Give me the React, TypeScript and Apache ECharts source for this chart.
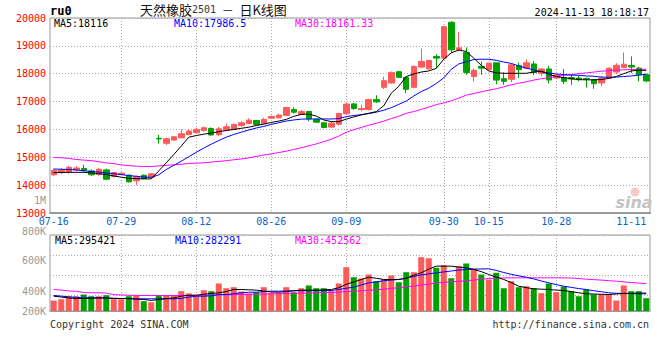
import React, { useEffect, useRef } from 'react';
import * as echarts from 'echarts';

const dates = [
  '07-16','07-17','07-18','07-19','07-22','07-23','07-24','07-25','07-26','07-29',
  '07-30','07-31','08-01','08-02','08-05','08-06','08-07','08-08','08-09','08-12',
  '08-13','08-14','08-15','08-16','08-19','08-20','08-21','08-22','08-23','08-26',
  '08-27','08-28','08-29','08-30','09-02','09-03','09-04','09-05','09-06','09-09',
  '09-10','09-11','09-12','09-13','09-18','09-19','09-20','09-23','09-24','09-25',
  '09-26','09-27','09-30','10-08','10-09','10-10','10-11','10-14','10-15','10-16',
  '10-17','10-18','10-21','10-22','10-23','10-24','10-25','10-28','10-29','10-30',
  '10-31','11-01','11-04','11-05','11-06','11-07','11-08','11-11','11-12','11-13'
];

const opens = [
  14370,14450,14476,14547,14600,14512,14380,14547,14310,14380,
  14357,14155,14357,14285,15680,15500,15618,15700,15820,15880,
  15964,16036,15810,15976,16000,16143,16214,16321,16214,16404,
  16416,16500,16714,16547,16642,16357,16238,16083,16190,16560,
  16917,16714,16714,17070,17512,17666,18071,17869,17512,18238,
  18178,18620,18560,19845,18870,18760,17900,18260,18140,18390,
  17820,17800,18290,18200,18350,18010,18170,17845,17860,17860,
  17845,17830,17786,17667,17845,18060,18226,18300,18200,17964
];
const closes = [
  14530,14540,14640,14615,14520,14370,14570,14214,14452,14430,
  14119,14310,14238,14405,15660,15666,15737,15845,15940,16000,
  16060,15800,16024,16095,16178,16238,16333,16178,16357,16464,
  16512,16785,16619,16642,16380,16262,16071,16226,16571,16910,
  16750,16750,17071,16990,17750,18047,17869,17440,18261,18440,
  18476,18560,19690,18857,18930,18047,18120,18200,18380,17770,
  17726,18320,18143,18390,18040,18170,17775,17950,17726,17810,
  17786,17810,17643,17845,18200,18300,18340,18240,17960,17740
];
const lows = [
  14320,14400,14420,14490,14470,14330,14340,14180,14270,14350,
  14090,14000,14210,14250,15490,15440,15590,15680,15790,15850,
  15920,15780,15760,15940,15980,16095,16180,16160,16190,16380,
  16400,16480,16570,16520,16290,16230,16040,16060,16150,16540,
  16700,16655,16680,16950,17450,17640,17850,17300,17480,18200,
  18150,18200,18520,18740,18800,17960,17720,17960,18100,17620,
  17600,17700,17845,18170,17950,17915,17655,17800,17630,17605,
  17730,17500,17460,17550,17820,18000,18200,18024,17726,17700
];
const highs = [
  14600,14620,14690,14680,14730,14560,14620,14590,14480,14460,
  14380,14340,14380,14440,15810,15700,15770,16000,16010,16060,
  16110,16070,16090,16214,16210,16300,16400,16330,16420,16500,
  16560,16800,16800,16700,16660,16400,16250,16270,16600,16950,
  16950,16893,17100,17226,17900,18080,18100,17900,18300,18900,
  18500,18700,19720,19890,19500,18950,18180,18440,18400,18400,
  18050,18360,18400,18510,18450,18200,18280,17980,18170,17964,
  17930,17860,17800,17905,18220,18380,18760,18620,18250,18000
];

const ma5 = [
  14450,14455,14460,14460,14460,14440,14410,14380,14330,14285,
  14245,14235,14225,14225,14510,14800,15100,15400,15720,15780,
  15830,15870,15920,15960,16000,16040,16080,16140,16190,16250,
  16300,16360,16470,16540,16550,16480,16340,16280,16280,16370,
  16450,16520,16580,16640,16850,17300,17550,17900,17990,18060,
  18100,18190,18520,18750,18850,18800,18560,18300,18100,18030,
  18015,18015,18015,18015,18060,18090,17980,17900,17860,17820,
  17790,17780,17780,17790,17830,17900,18000,18100,18130,18116
];
const ma10 = [
  14580,14570,14560,14545,14520,14490,14470,14440,14410,14380,
  14340,14320,14290,14280,14370,14560,14710,14860,15020,15180,
  15330,15470,15600,15720,15820,15900,15980,16050,16110,16180,
  16240,16300,16340,16370,16375,16375,16375,16375,16390,16460,
  16500,16530,16570,16620,16690,16780,16900,17020,17200,17360,
  17480,17650,17850,18160,18350,18430,18510,18520,18520,18480,
  18420,18370,18280,18200,18140,18070,18030,17990,17970,17950,
  17940,17920,17910,17880,17870,17880,17900,17920,17950,17986.5
];
const ma30 = [
  14990,14985,14960,14920,14900,14880,14840,14800,14770,14730,
  14700,14680,14670,14670,14690,14710,14730,14750,14780,14790,
  14800,14830,14850,14880,14910,14940,14980,15030,15080,15120,
  15170,15220,15280,15340,15410,15480,15560,15650,15760,15900,
  15990,16070,16150,16220,16300,16390,16470,16580,16640,16720,
  16800,16890,16950,17030,17120,17230,17290,17350,17410,17460,
  17530,17600,17660,17710,17770,17820,17860,17900,17940,17970,
  18000,18030,18060,18090,18110,18130,18140,18150,18160,18161.33
];

const volumes = [
  173000,195000,244000,244000,272000,244000,244000,261000,195000,195000,
  244000,256000,162000,145000,256000,256000,256000,327000,289000,244000,
  343000,327000,454000,376000,393000,322000,289000,310000,393000,300000,
  300000,393000,310000,376000,421000,376000,376000,327000,454000,723000,
  558000,536000,602000,492000,520000,586000,475000,640000,640000,888000,
  871000,713000,756000,541000,739000,784000,701000,602000,520000,630000,
  376000,492000,393000,409000,376000,294000,454000,310000,404000,327000,
  244000,355000,272000,272000,272000,173000,421000,327000,327000,211000
];
const vma5 = [
  244000,230000,215000,206000,206000,210000,215000,215000,210000,206000,
  206000,195000,190000,175000,190000,206000,215000,244000,261000,261000,
  275000,290000,300000,320000,355000,355000,350000,344000,330000,315000,
  310000,320000,335000,344000,344000,344000,348000,355000,383000,440000,
  480000,520000,558000,540000,520000,520000,520000,540000,590000,630000,
  690000,740000,740000,740000,725000,713000,685000,650000,602000,560000,
  520000,470000,409000,385000,366000,360000,355000,345000,338000,320000,
  300000,284000,280000,275000,272000,280000,290000,292000,295000,295421
];
const vma10 = [
  256000,245000,234000,225000,218000,218000,218000,215000,206000,206000,
  206000,201000,201000,201000,201000,201000,201000,206000,230000,244000,
  244000,250000,272000,272000,285000,300000,310000,310000,320000,327000,
  327000,330000,333000,335000,336000,337000,337000,338000,355000,375000,
  393000,430000,465000,480000,500000,510000,520000,545000,570000,595000,
  614000,630000,645000,660000,675000,685000,690000,694000,696000,670000,
  635000,605000,580000,558000,530000,495000,465000,435000,409000,390000,
  370000,355000,335000,318000,300000,292000,290000,287000,285000,282291
];
const vma30 = [
  355000,345000,330000,325000,305000,300000,300000,295000,270000,265000,
  260000,258000,255000,255000,255000,255000,255000,255000,255000,258000,
  260000,262000,265000,268000,270000,272000,275000,278000,280000,282000,
  285000,288000,290000,293000,296000,300000,303000,306000,312000,320000,
  326000,332000,340000,350000,360000,372000,385000,398000,412000,428000,
  445000,460000,472000,482000,490000,498000,510000,525000,536000,542000,
  546000,547000,547000,547000,547000,547000,547000,547000,547000,545000,
  535000,525000,518000,510000,500000,492000,480000,470000,460000,452562
];

const priceTicks = { min: 13000, max: 20000, step: 1000 };
const volLabels = ['1M', '800K', '600K', '400K', '200K'];
const labelIdx = [0, 9, 19, 29, 39, 52, 58, 67, 77];
const gridIdx = [9, 19, 29, 39, 52, 58, 67];

const legendPrice = ['MA5:18116', 'MA10:17986.5', 'MA30:18161.33'];
const legendVol = ['MA5:295421', 'MA10:282291', 'MA30:452562'];

const RED = '#ff5a5a';
const GREEN = '#00a000';
const MONO = '"DejaVu Sans Mono", monospace';

export default function App() {
  const ref = useRef<HTMLDivElement>(null);
  useEffect(() => {
    const chart = echarts.init(ref.current!, undefined, { renderer: 'svg' });
    const candle = dates.map((_, i) => [opens[i], closes[i], lows[i], highs[i]]);
    const volData = volumes.map((v, i) => ({
      value: v,
      itemStyle: { color: closes[i] >= opens[i] ? RED : GREEN },
    }));
    const dotted = { color: '#aaaaaa', type: [1, 2] as any, width: 1 };
    const xCommon = {
      type: 'category' as const,
      data: dates,
      boundaryGap: true,
      axisTick: { show: false },
      splitLine: {
        show: true,
        interval: (idx: number) => gridIdx.includes(idx),
        alignWithLabel: true,
        lineStyle: dotted,
      },
    };
    const volY = [311, 291, 260, 231, 200];
    const text = (t: string, x: number, y: number, fill: string, align = 'left', font = `10px ${MONO}`) => ({
      type: 'text', x, y, silent: true,
      style: { text: t, fill, font, textAlign: align, textVerticalAlign: 'middle' },
    });
    chart.setOption({
      animation: false,
      backgroundColor: '#ffffff',
      grid: [
        { left: 50, right: 10, top: 18, height: 195, show: true, borderColor: '#999', borderWidth: 1 },
        { left: 50, right: 10, top: 235, height: 76, show: true, borderColor: '#999', borderWidth: 1 },
      ],
      xAxis: [
        {
          ...xCommon, gridIndex: 0,
          axisLine: { show: true, lineStyle: { color: '#999', width: 2 } },
          axisLabel: {
            interval: (idx: number) => labelIdx.includes(idx),
            color: '#0a64c8', fontFamily: MONO, fontSize: 10, margin: 3,
          },
        },
        {
          ...xCommon, gridIndex: 1,
          axisLine: { show: true, lineStyle: { color: '#999', width: 1 } },
          axisLabel: { show: false },
        },
      ],
      yAxis: [
        {
          gridIndex: 0, type: 'value', min: priceTicks.min, max: priceTicks.max, interval: priceTicks.step,
          axisLine: { show: false }, axisTick: { show: false },
          axisLabel: {
            color: '#ff0000', fontFamily: MONO, fontSize: 10, margin: 4, padding: [0, 0, 4, 0],
            formatter: (v: number) => String(v),
          },
          splitLine: { show: true, lineStyle: dotted },
        },
        {
          gridIndex: 1, type: 'value', min: 0, max: 1254000,
          axisLine: { show: false }, axisTick: { show: false },
          axisLabel: { show: false }, splitLine: { show: false },
        },
        {
          gridIndex: 1, type: 'value', min: 0, max: 76, interval: 20, inverse: true,
          axisLine: { show: false }, axisTick: { show: false },
          axisLabel: { show: false }, splitLine: { show: true, lineStyle: dotted },
        },
      ],
      series: [
        {
          type: 'candlestick', xAxisIndex: 0, yAxisIndex: 0, data: candle, barWidth: 6,
          itemStyle: { color: RED, color0: GREEN, borderColor: RED, borderColor0: GREEN, borderWidth: 1 },
        },
        { type: 'line', xAxisIndex: 0, yAxisIndex: 0, data: ma30, showSymbol: false, lineStyle: { color: '#ff00ff', width: 1 } },
        { type: 'line', xAxisIndex: 0, yAxisIndex: 0, data: ma10, showSymbol: false, lineStyle: { color: '#0000ff', width: 1 } },
        { type: 'line', xAxisIndex: 0, yAxisIndex: 0, data: ma5, showSymbol: false, lineStyle: { color: '#000000', width: 1 } },
        { type: 'bar', xAxisIndex: 1, yAxisIndex: 1, data: volData, barWidth: 6 },
        { type: 'line', xAxisIndex: 1, yAxisIndex: 1, data: vma30, showSymbol: false, lineStyle: { color: '#ff00ff', width: 1 } },
        { type: 'line', xAxisIndex: 1, yAxisIndex: 1, data: vma10, showSymbol: false, lineStyle: { color: '#0000ff', width: 1 } },
        { type: 'line', xAxisIndex: 1, yAxisIndex: 1, data: vma5, showSymbol: false, lineStyle: { color: '#000000', width: 1 } },
      ],
      graphic: [
        text('ru0', 50, 11, '#000', 'left', `bold 12px ${MONO}`),
        {
          type: 'text', x: 140, y: 9, silent: true,
          style: {
            text: '{a|天然橡胶}{b|2501}{c| － }{a|日K线图}',
            textVerticalAlign: 'middle',
            rich: {
              a: { fontFamily: '"Noto Sans CJK SC"', fontSize: 13, fill: '#111' },
              b: { fontFamily: MONO, fontSize: 10, fill: '#333' },
              c: { fontFamily: '"Noto Sans CJK SC"', fontSize: 12, fill: '#111', padding: [0, 3, 0, 3] },
            },
          },
        },
        text('2024-11-13 18:18:17', 649, 12, '#000', 'right'),
        text(legendPrice[0], 54, 23, '#000'),
        text(legendPrice[1], 174, 23, '#0000ff'),
        text(legendPrice[2], 295, 23, '#ff00ff'),
        text(legendVol[0], 55, 240, '#000'),
        text(legendVol[1], 175, 240, '#0000ff'),
        text(legendVol[2], 295, 240, '#ff00ff'),
        ...volLabels.map((l, i) => text(l, 46, volY[4 - i], '#999', 'right')),
        text('Copyright 2024 SINA.COM', 50, 324, '#333'),
        text('http://finance.sina.com.cn', 649, 324, '#333', 'right'),
        { type: 'circle', silent: true, shape: { cx: 635, cy: 192, r: 4.5 }, style: { fill: 'rgba(240,140,140,0.45)' } },
        text('sina', 634, 202, '#c4c4c4', 'center', `italic bold 16px "DejaVu Sans"`),
      ],
    });
    return () => chart.dispose();
  }, []);
  return <div ref={ref} style={{ position: 'fixed', left: 0, top: 0, width: 660, height: 360 }} />;
}
